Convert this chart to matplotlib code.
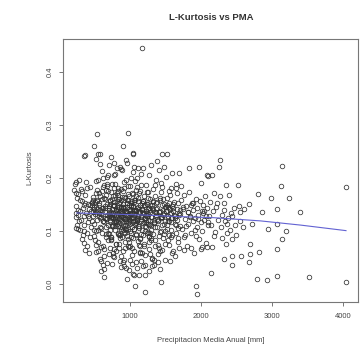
import matplotlib
matplotlib.use("Agg")
import matplotlib.pyplot as plt

plt.rcParams['font.family'] = ['Liberation Sans', 'DejaVu Sans']

# --- precipitation (mm) and L-kurtosis per station ---------------------
pma = [
    # 200-450 mm
    230, 245, 262, 270, 281, 295, 305, 318, 326, 338,
    350, 362, 371, 384, 395, 402, 415, 428, 436, 447,
    236, 258, 276, 290, 312, 333, 347, 368, 389, 410,
    425, 440, 240, 266, 300, 322, 355, 380, 405, 432,
    # 450-700 mm
    455, 462, 470, 478, 486, 493, 501, 510, 518, 525,
    533, 540, 548, 556, 563, 571, 578, 586, 594, 601,
    609, 616, 624, 631, 639, 646, 654, 661, 669, 676,
    684, 691, 698, 458, 475, 490, 505, 520, 535, 550,
    565, 580, 595, 610, 625, 640, 655, 670, 685, 700,
    468, 483, 498, 513, 528, 543, 558, 573, 588, 603,
    618, 633, 648, 663, 678, 693, 480, 520, 560, 600,
    # 700-1000 mm
    703, 708, 714, 719, 725, 731, 736, 742, 748, 753,
    759, 764, 770, 776, 781, 787, 792, 798, 804, 809,
    815, 820, 826, 832, 837, 843, 848, 854, 860, 865,
    871, 876, 882, 888, 893, 899, 904, 910, 916, 921,
    927, 932, 938, 944, 949, 955, 960, 966, 972, 977,
    983, 988, 994, 998, 706, 717, 728, 739, 751, 762,
    773, 784, 796, 807, 818, 829, 841, 852, 863, 874,
    885, 897, 908, 919, 930, 941, 953, 964, 975, 986,
    997, 711, 733, 756, 778, 801, 823, 846, 868, 891,
    913, 935, 958, 980, 722, 767, 812, 857, 902, 947,
    992, 745, 790, 835, 880, 925, 970, 700, 750, 800,
    850, 900, 950, 995, 725, 775, 825, 875, 925, 975,
    # 1000-1300 mm
    1003, 1009, 1015, 1021, 1027, 1033, 1039, 1045, 1051, 1057,
    1063, 1069, 1075, 1081, 1087, 1093, 1099, 1105, 1111, 1117,
    1123, 1129, 1135, 1141, 1147, 1153, 1159, 1165, 1171, 1177,
    1183, 1189, 1195, 1201, 1207, 1213, 1219, 1225, 1231, 1237,
    1243, 1249, 1255, 1261, 1267, 1273, 1279, 1285, 1291, 1297,
    1006, 1018, 1030, 1042, 1054, 1066, 1078, 1090, 1102, 1114,
    1126, 1138, 1150, 1162, 1174, 1186, 1198, 1210, 1222, 1234,
    1246, 1258, 1270, 1282, 1294, 1012, 1036, 1060, 1084, 1108,
    1132, 1156, 1180, 1204, 1228, 1252, 1276, 1300, 1024, 1072,
    1120, 1168, 1216, 1264, 1048, 1096, 1144, 1192, 1240, 1288,
    # 1300-1700 mm
    1304, 1312, 1320, 1328, 1336, 1344, 1352, 1360, 1368, 1376,
    1384, 1392, 1400, 1408, 1416, 1424, 1432, 1440, 1448, 1456,
    1464, 1472, 1480, 1488, 1496, 1504, 1512, 1520, 1528, 1536,
    1544, 1552, 1560, 1568, 1576, 1584, 1592, 1600, 1608, 1616,
    1624, 1632, 1640, 1648, 1656, 1664, 1672, 1680, 1688, 1696,
    1316, 1340, 1364, 1388, 1412, 1436, 1460, 1484, 1508, 1532,
    1556, 1580, 1604, 1628, 1652, 1676, 1700, 1330, 1378, 1426,
    1474, 1522, 1570, 1618, 1666, 1355, 1450, 1545, 1640, 1690,
    # 1700-2100 mm
    1705, 1716, 1728, 1739, 1751, 1762, 1774, 1785, 1797, 1808,
    1820, 1831, 1843, 1854, 1866, 1877, 1889, 1900, 1912, 1923,
    1935, 1946, 1958, 1969, 1981, 1992, 2004, 2015, 2027, 2038,
    2050, 2061, 2073, 2084, 2096, 1722, 1768, 1814, 1860, 1906,
    1952, 1998, 2044, 2090, 1745, 1837, 1929, 2021, 1791, 1883,
    # 2100-2600 mm
    2108, 2125, 2140, 2163, 2190, 2205, 2231, 2258, 2274, 2290,
    2315, 2338, 2352, 2381, 2405, 2430, 2468, 2490, 2550, 2580,
    # more of the central cloud
    612, 647, 688, 719, 743, 768, 791, 817, 839, 862,
    884, 907, 931, 956, 979, 1004, 1027, 1053, 1077, 1101,
    1124, 1149, 1173, 1197, 1222, 1246, 1271, 1296, 1319, 1343,
    1367, 1392, 1418, 1441, 1466, 1491, 1515, 1539, 1563, 1588,
    627, 663, 702, 734, 759, 783, 806, 829, 853, 878,
    899, 922, 947, 969, 993, 1016, 1041, 1066, 1089, 1113,
    1137, 1161, 1186, 1209, 1233, 1258, 1283, 1307, 1331, 1356,
    1379, 1404, 1429, 1454, 1479, 1503, 1527, 1551, 1576, 1601,
    597, 641, 679, 713, 747, 774, 799, 823, 848, 871,
    894, 917, 941, 963, 988, 1011, 1035, 1059, 1083, 1107,
    # upper edge of the cloud
    548, 604, 655, 702, 744, 786, 832, 871, 918, 962,
    1003, 1047, 1095, 1138, 1184, 1227, 1272, 1318, 1361, 1409,
    1452, 1498, 1546, 1592, 1640, 583, 676, 768, 889, 1012,
    1153, 1289, 1433, 1580,
    # lower edge of the cloud
    526, 574, 622, 668, 715, 759, 808, 853, 897, 942,
    986, 1031, 1078, 1122, 1169, 1213, 1262, 1306, 1352, 1398,
    1447, 1493, 1541, 1589, 1637, 1683, 596, 739, 866, 1004,
    1141, 1279, 1418, 1555,
    # low values inside the cloud
    870, 905, 990, 1020, 1090, 1150, 1260, 1330, 1395, 1180,
    1305, 1420, 916, 1042, 1314,
    # outlying stations
    1166, 529, 964, 487, 898, 365, 571, 519, 729, 944,
    1038, 1454, 1515, 1384, 1477, 1693, 1827, 1968, 2090, 851,
    813, 1056, 1108, 2262, 2248, 3137, 2086, 2156, 4035, 3118,
    2983, 3235, 2795, 3067, 3394, 2857, 2669, 2717, 2936, 3067,
    3198, 3137, 3067, 2809, 2679, 2679, 2669, 2562, 2436, 2318,
    2436, 2132, 2777, 2927, 3067, 3511, 4035, 1921, 1945, 2459,
    2529, 2599, 2412, 2543, 2366, 2436, 2366, 2296, 2178, 2156,
    2086, 2016, 1851, 1757, 2342, 2515, 2178, 2389, 1991, 2226,
    2318, 954, 1066, 1206, 1431, 1048, 1126, 1210, 635, 613,
    635, 234, 210, 267, 397, 515, 537, 631, 351, 234,
    257, 234, 351, 491, 355, 543, 1034,
]

l_kurtosis = [
    # 200-450 mm
    0.188, 0.172, 0.131, 0.104, 0.196, 0.158, 0.121, 0.085, 0.176, 0.143,
    0.112, 0.064, 0.167, 0.134, 0.096, 0.151, 0.058, 0.124, 0.182, 0.108,
    0.147, 0.162, 0.118, 0.138, 0.179, 0.093, 0.128, 0.152, 0.072, 0.116,
    0.141, 0.088, 0.126, 0.139, 0.102, 0.156, 0.077, 0.192, 0.129, 0.148,
    # 450-700 mm
    0.137, 0.152, 0.118, 0.164, 0.141, 0.091, 0.155, 0.132, 0.074, 0.146,
    0.158, 0.121, 0.063, 0.149, 0.172, 0.108, 0.139, 0.044, 0.127, 0.161,
    0.097, 0.143, 0.183, 0.116, 0.052, 0.135, 0.168, 0.088, 0.124, 0.150,
    0.206, 0.112, 0.139, 0.154, 0.128, 0.146, 0.082, 0.136, 0.157, 0.101,
    0.133, 0.166, 0.070, 0.144, 0.119, 0.160, 0.094, 0.131, 0.175, 0.057,
    0.148, 0.136, 0.114, 0.171, 0.142, 0.079, 0.153, 0.125, 0.105, 0.138,
    0.199, 0.066, 0.147, 0.122, 0.185, 0.083, 0.159, 0.099, 0.129, 0.176,
    # 700-1000 mm
    0.128, 0.094, 0.151, 0.117, 0.173, 0.136, 0.082, 0.142, 0.109, 0.165,
    0.124, 0.058, 0.147, 0.131, 0.101, 0.189, 0.119, 0.140, 0.076, 0.156,
    0.113, 0.134, 0.097, 0.168, 0.125, 0.145, 0.068, 0.138, 0.107, 0.159,
    0.121, 0.179, 0.088, 0.133, 0.150, 0.111, 0.127, 0.046, 0.143, 0.162,
    0.104, 0.137, 0.118, 0.196, 0.130, 0.091, 0.153, 0.115, 0.071, 0.141,
    0.126, 0.166, 0.099, 0.134, 0.144, 0.120, 0.085, 0.161, 0.132, 0.110,
    0.148, 0.124, 0.062, 0.139, 0.172, 0.116, 0.135, 0.093, 0.154, 0.128,
    0.108, 0.146, 0.181, 0.122, 0.079, 0.137, 0.158, 0.103, 0.129, 0.149,
    0.114, 0.157, 0.089, 0.133, 0.205, 0.119, 0.142, 0.075, 0.127, 0.164,
    0.098, 0.136, 0.152, 0.117, 0.131, 0.051, 0.145, 0.123, 0.176, 0.106,
    0.140, 0.112, 0.167, 0.095, 0.138, 0.122, 0.084, 0.147, 0.130, 0.118,
    0.160, 0.101, 0.135, 0.072, 0.126, 0.155, 0.109, 0.143, 0.097, 0.185,
    # 1000-1300 mm
    0.119, 0.152, 0.088, 0.134, 0.171, 0.107, 0.145, 0.126, 0.063, 0.139,
    0.158, 0.114, 0.131, 0.095, 0.177, 0.122, 0.143, 0.081, 0.129, 0.162,
    0.110, 0.136, 0.149, 0.072, 0.118, 0.187, 0.127, 0.101, 0.141, 0.157,
    0.092, 0.133, 0.116, 0.166, 0.124, 0.055, 0.138, 0.108, 0.150, 0.129,
    0.174, 0.098, 0.121, 0.144, 0.079, 0.135, 0.113, 0.160, 0.126, 0.102,
    0.147, 0.132, 0.068, 0.117, 0.155, 0.139, 0.093, 0.124, 0.182, 0.109,
    0.141, 0.086, 0.128, 0.153, 0.115, 0.136, 0.076, 0.149, 0.120, 0.097,
    0.132, 0.163, 0.111, 0.140, 0.087, 0.125, 0.169, 0.104, 0.137, 0.145,
    0.059, 0.122, 0.156, 0.099, 0.131, 0.114, 0.148, 0.083, 0.127, 0.195,
    0.106, 0.140, 0.123, 0.091, 0.158, 0.119, 0.135, 0.071, 0.151, 0.112,
    # 1300-1700 mm
    0.127, 0.148, 0.094, 0.139, 0.116, 0.165, 0.082, 0.131, 0.153, 0.108,
    0.143, 0.121, 0.067, 0.135, 0.159, 0.098, 0.126, 0.174, 0.112, 0.140,
    0.087, 0.133, 0.151, 0.118, 0.076, 0.137, 0.162, 0.104, 0.128, 0.145,
    0.092, 0.119, 0.168, 0.134, 0.101, 0.147, 0.124, 0.063, 0.138, 0.155,
    0.113, 0.129, 0.181, 0.096, 0.142, 0.120, 0.086, 0.152, 0.131, 0.109,
    0.157, 0.115, 0.141, 0.073, 0.136, 0.124, 0.160, 0.099, 0.145, 0.118,
    0.132, 0.088, 0.150, 0.125, 0.171, 0.106, 0.139, 0.046, 0.123, 0.137,
    0.095, 0.149, 0.117, 0.130, 0.079, 0.186, 0.127, 0.143, 0.112, 0.134,
    # 1700-2100 mm
    0.132, 0.158, 0.104, 0.141, 0.089, 0.167, 0.122, 0.147, 0.071, 0.136,
    0.113, 0.174, 0.128, 0.096, 0.152, 0.119, 0.139, 0.058, 0.125, 0.161,
    0.108, 0.143, 0.131, 0.084, 0.156, 0.117, 0.137, 0.099, 0.149, 0.121,
    0.165, 0.129, 0.078, 0.144, 0.111, 0.184, 0.093, 0.135, 0.148, 0.102,
    0.123, 0.066, 0.138, 0.116, 0.146, 0.127, 0.091, 0.133, 0.109, 0.153,
    # 2100-2600 mm
    0.128, 0.154, 0.112, 0.137, 0.098, 0.145, 0.121, 0.166, 0.107, 0.131,
    0.139, 0.118, 0.076, 0.124, 0.101, 0.128, 0.112, 0.092, 0.136, 0.107,
    # more of the central cloud
    0.118, 0.143, 0.097, 0.159, 0.126, 0.181, 0.109, 0.137, 0.152, 0.086,
    0.131, 0.164, 0.112, 0.145, 0.079, 0.128, 0.157, 0.104, 0.139, 0.121,
    0.171, 0.094, 0.133, 0.148, 0.116, 0.141, 0.089, 0.127, 0.154, 0.107,
    0.136, 0.118, 0.162, 0.099, 0.130, 0.146, 0.112, 0.125, 0.141, 0.093,
    0.162, 0.107, 0.134, 0.089, 0.149, 0.122, 0.116, 0.176, 0.131, 0.103,
    0.145, 0.068, 0.125, 0.158, 0.138, 0.096, 0.147, 0.118, 0.166, 0.129,
    0.084, 0.141, 0.156, 0.110, 0.133, 0.173, 0.097, 0.144, 0.121, 0.135,
    0.154, 0.090, 0.127, 0.149, 0.113, 0.138, 0.082, 0.152, 0.124, 0.143,
    0.132, 0.124, 0.188, 0.102, 0.141, 0.066, 0.129, 0.161, 0.092, 0.145,
    0.117, 0.139, 0.101, 0.170, 0.123, 0.148, 0.087, 0.134, 0.115, 0.157,
    # upper edge of the cloud
    0.196, 0.213, 0.178, 0.224, 0.189, 0.207, 0.181, 0.216, 0.193, 0.228,
    0.184, 0.211, 0.199, 0.175, 0.218, 0.187, 0.205, 0.179, 0.196, 0.214,
    0.183, 0.202, 0.176, 0.209, 0.188, 0.226, 0.201, 0.229, 0.214, 0.199,
    0.208, 0.224, 0.191, 0.181,
    # lower edge of the cloud
    0.061, 0.048, 0.072, 0.039, 0.067, 0.053, 0.076, 0.044, 0.062, 0.031,
    0.069, 0.055, 0.042, 0.073, 0.058, 0.036, 0.066, 0.049, 0.071, 0.057,
    0.064, 0.045, 0.074, 0.059, 0.052, 0.068, 0.024, 0.038, 0.052, 0.046,
    0.061, 0.057, 0.063, 0.043,
    # low values inside the cloud
    0.032, 0.041, 0.027, 0.038, 0.030, 0.044, 0.025, 0.035, 0.041, 0.033,
    0.048, 0.028, 0.034, 0.019, 0.034,
    # outlying stations
    0.445, 0.283, 0.285, 0.260, 0.260, 0.243, 0.245, 0.235, 0.239, 0.234,
    0.245, 0.245, 0.245, 0.231, 0.220, 0.209, 0.219, 0.220, 0.204, 0.221,
    0.219, 0.221, 0.219, 0.233, 0.221, 0.223, 0.205, 0.205, 0.182, 0.184,
    0.162, 0.162, 0.169, 0.141, 0.135, 0.136, 0.151, 0.113, 0.103, 0.113,
    0.099, 0.084, 0.066, 0.061, 0.075, 0.057, 0.042, 0.053, 0.052, 0.048,
    0.036, 0.021, 0.009, 0.008, 0.015, 0.014, 0.004, -0.004, -0.018, 0.143,
    0.147, 0.141, 0.133, 0.119, 0.113, 0.084, 0.096, 0.086, 0.091, 0.069,
    0.069, 0.069, 0.067, 0.064, 0.187, 0.187, 0.171, 0.168, 0.190, 0.152,
    0.152, 0.009, -0.004, -0.015, 0.004, 0.017, 0.017, 0.017, 0.028, 0.036,
    0.013, 0.193, 0.177, 0.169, 0.181, 0.194, 0.177, 0.187, 0.149, 0.133,
    0.111, 0.105, 0.099, 0.102, 0.242, 0.245, 0.247,
]

# smoothed trend of L-kurtosis against precipitation
trend_pma = [250, 700, 1200, 1700, 2175, 2830, 3400, 4035]
trend_lk = [0.134, 0.132, 0.130, 0.127, 0.125, 0.119, 0.111, 0.1006]

x_ticks = [1000, 2000, 3000, 4000]
y_ticks = [0.0, 0.1, 0.2, 0.3, 0.4]

W, H = 360, 347
fig = plt.figure(figsize=(W / 100, H / 100), dpi=100)
ax = fig.add_axes([63 / W, 1 - 302 / H, (358 - 63) / W, (302 - 39) / H])

ax.plot(pma, l_kurtosis, 'o', ms=3.3, mfc='none', mec='#333333', mew=0.55)
ax.plot(trend_pma, trend_lk, '-', color='#6262d2', lw=0.8)

ax.set_xlim(56, 4204)
ax.set_ylim(-0.034, 0.462)
ax.set_xticks(x_ticks)
ax.set_xticklabels([str(v) for v in x_ticks])
ax.set_yticks(y_ticks)
ax.set_yticklabels([f'{v:.1f}' for v in y_ticks], rotation=90, va='center')

for s in ax.spines.values():
    s.set_color('#777777')
    s.set_linewidth(0.8)
ax.tick_params(axis='both', colors='#777777', labelcolor='#444444',
               labelsize=5.5, length=3, width=0.7)
ax.tick_params(axis='x', pad=5)
ax.tick_params(axis='y', pad=4)

fig.text(211 / W, 1 - 18 / H, 'L-Kurtosis vs PMA', ha='center', va='center',
         fontsize=6.8, fontweight='bold', color='#333333')
fig.text(211 / W, 1 - 340 / H, 'Precipitacion Media Anual [mm]', ha='center',
         va='center', fontsize=5.5, color='#444444')
fig.text(30 / W, 1 - 168 / H, 'L-Kurtosis', ha='center', va='center',
         rotation=90, fontsize=5.5, color='#444444')

fig.savefig('out.png', dpi=100)
